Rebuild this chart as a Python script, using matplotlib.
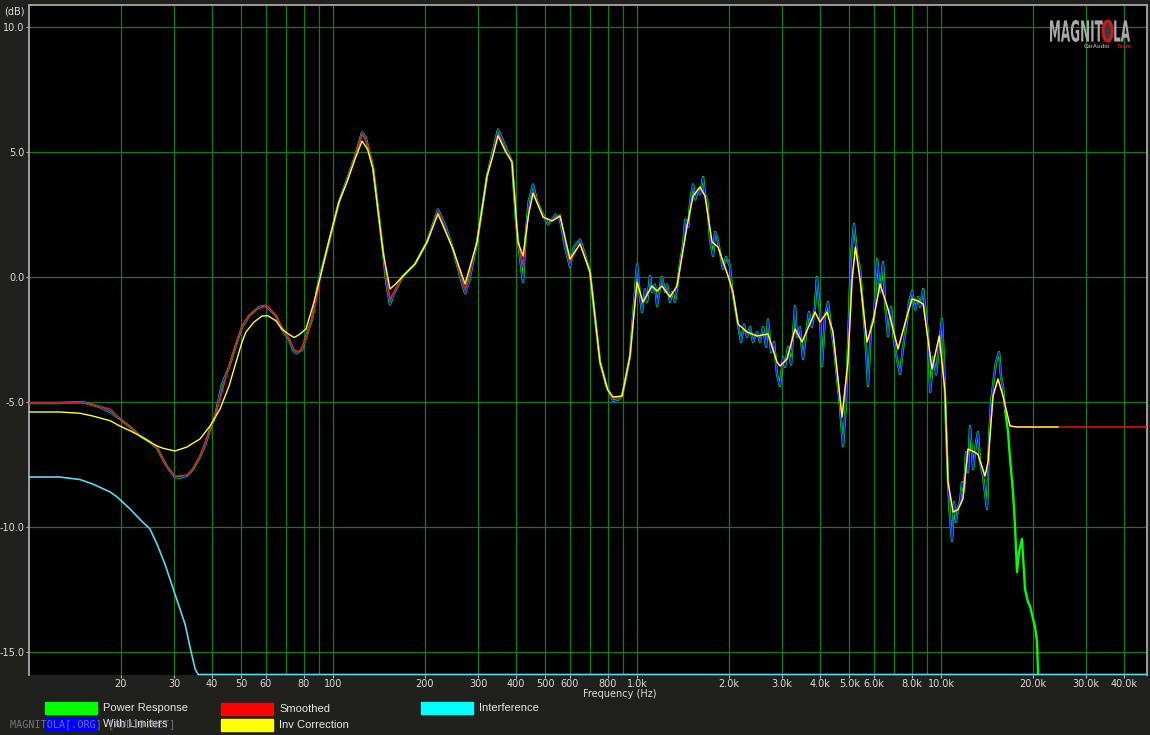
import matplotlib
matplotlib.use("Agg")
import matplotlib.pyplot as plt
from matplotlib.patches import Rectangle, PathPatch, Ellipse
from matplotlib.textpath import TextPath
from matplotlib.font_manager import FontProperties
from matplotlib.transforms import Affine2D

W, H = 1150, 735

# ---- measured response (Power Response), low band ----
raw_low_freq = [10, 12.6, 15.0, 17.1, 18.5, 20.0, 21.5, 23.2, 25.0, 26.4,
                27.6, 28.5, 30.2, 31.5, 33.1, 34.6, 36.5, 38.0, 39.4, 40.9,
                43.1, 45.5, 48.0, 50.2, 53.0, 57.1, 60.2, 64.9, 67.9, 71.7,
                74.0, 76.1, 79.1, 82.0, 85.3, 89.9, 97.0, 104.6, 111.2, 118.0,
                124.6, 128.0, 135.4, 146.1, 150.0, 154.0, 158.0, 170.0, 186.1, 203.8,
                221.5, 235.0, 248.1, 265.0, 271.8, 280.0, 297.7, 321.1, 349.0, 370.0,
                388.0, 400.0, 410.0, 421.7, 430.0, 440.0, 455.0, 470.0, 490.8, 510.0,
                525.4, 540.0, 558.2, 580.0, 602.0, 620.0, 649.4, 670.0, 700.6, 730.0,
                755.7, 790.0, 833.7, 870.0, 892.7, 920.0, 948.4, 970.0, 1000]
raw_low_db = [-5.04, -5.04, -5.00, -5.20, -5.40, -5.70, -6.00, -6.36, -6.60, -6.85,
              -7.30, -7.60, -8.00, -8.02, -7.95, -7.70, -7.20, -6.70, -6.10, -5.60,
              -4.30, -3.60, -2.70, -2.00, -1.55, -1.20, -1.15, -1.55, -2.10, -2.50,
              -2.95, -3.05, -2.90, -2.30, -1.70, -0.10, 1.40, 3.00, 3.90, 4.80,
              5.78, 5.60, 4.40, 1.00, -0.30, -1.10, -0.70, 0.04, 0.52, 1.40,
              2.70, 2.00, 1.12, -0.20, -0.65, -0.20, 1.40, 4.04, 5.90, 5.20,
              4.60, 2.20, 1.00, -0.20, 1.60, 3.00, 3.70, 3.00, 2.50, 2.10,
              2.30, 2.50, 2.30, 1.20, 0.40, 1.20, 1.50, 1.00, 0.20, -1.80,
              -3.40, -4.30, -4.95, -4.90, -4.76, -4.00, -3.16, -1.60, 0.50]

# ---- measured response, high band ----
raw_high_freq = [1023, 1039, 1062, 1079, 1104, 1120, 1146, 1164, 1190, 1208,
                 1237, 1256, 1284, 1304, 1333, 1365, 1387, 1419, 1441, 1474,
                 1496, 1529, 1553, 1588, 1612, 1649, 1674, 1700, 1739, 1779,
                 1806, 1833, 1875, 1918, 1962, 2022, 2053, 2101, 2149, 2199,
                 2250, 2300, 2354, 2408, 2482, 2540, 2599, 2659, 2697, 2760,
                 2824, 2888, 2954, 3023, 3069, 3139, 3211, 3309, 3359, 3436,
                 3515, 3596, 3678, 3763, 3850, 3908, 3999, 4059, 4152, 4248,
                 4346, 4446, 4548, 4653, 4761, 4871, 4983, 5058, 5175, 5292,
                 5415, 5540, 5624, 5754, 5887, 6023, 6162, 6300, 6446, 6543,
                 6694, 6849, 7007, 7169, 7334, 7504, 7677, 7854, 8036, 8221,
                 8411, 8539, 8737, 8938, 9074, 9212, 9424, 9642, 9865, 10077,
                 10232, 10388, 10545, 10707, 10872, 11038, 11207, 11380, 11550, 11726,
                 11905, 12086, 12273, 12458, 12750, 13050, 13233, 13436, 13747, 13957,
                 14172, 14389, 14609, 14944, 15175, 15520, 15760, 15993, 16240, 16612,
                 16866, 17254, 17515, 17783, 18054, 18466, 18893, 19325, 19625, 20075,
                 20390, 20692, 20850, 21170]
raw_high_db = [-0.8, -1.4, -0.5, -1.0, 0.04, -0.6, -0.3, -1.16, -0.4, 0.0,
               -0.6, -0.3, -1.0, -0.6, -1.0, -0.08, 0.6, 1.3, 2.3, 2.0,
               3.0, 3.7, 3.1, 3.5, 3.3, 4.0, 3.3, 3.1, 1.5, 0.84,
               1.8, 1.6, 1.0, 0.32, 0.8, 0.44, -0.48, -1.2, -1.9, -2.6,
               -1.9, -2.4, -2.0, -2.6, -2.2, -2.6, -2.0, -2.8, -1.7, -3.0,
               -2.6, -3.9, -4.36, -3.2, -3.6, -2.8, -3.5, -1.16, -2.4, -2.0,
               -3.28, -2.3, -1.4, -2.0, -1.2, 0.0, -1.4, -3.56, -1.6, -1.0,
               -2.0, -2.8, -4.0, -5.2, -6.76, -5.0, -1.5, 0.8, 2.12, 0.9,
               0.32, -1.2, -2.2, -4.36, -2.0, -1.6, 0.72, -0.6, 0.6, -1.0,
               -2.36, -1.2, -2.6, -3.3, -3.88, -2.8, -2.0, -1.0, -0.56, -1.3,
               -0.8, -1.2, -0.48, -1.6, -2.4, -4.6, -3.2, -3.9, -2.6, -1.68,
               -3.5, -6.0, -8.2, -9.6, -10.56, -9.0, -9.8, -9.2, -9.0, -8.2,
               -8.6, -7.0, -7.8, -5.96, -7.68, -6.6, -6.2, -7.4, -7.96, -8.6,
               -9.28, -6.5, -5.0, -4.0, -3.4, -3.0, -4.0, -4.4, -5.3, -6.2,
               -7.28, -8.6, -9.96, -11.8, -11.0, -10.48, -12.48, -13.0, -13.16, -13.68,
               -14.0, -14.6, -15.8, -17.5]

# ---- smoothed (red) and inverse correction (yellow) on one grid ----
smooth_freq = [10, 12.6, 14.7, 16.2, 18.5, 19.9, 21.5, 23.2, 25.0, 26.4,
               27.6, 30.2, 33.1, 34.6, 36.5, 39.4, 42.5, 45.5, 50.2, 51.7,
               55.0, 58.4, 61.0, 64.9, 67.9, 71.7, 74.5, 77.5, 81.5, 86.6,
               91.3, 97.0, 104.6, 111.2, 118, 124.6, 130, 135.4, 146.1, 154.0,
               160, 170, 186.1, 203.8, 221.5, 248.1, 271.8, 297.7, 321.1, 335,
               349, 370, 388, 406, 421.7, 440, 455, 490.8, 525.4, 558.2,
               602, 649.4, 700.6, 755.7, 800, 833.7, 892.7, 948.4, 1000, 1046,
               1120, 1164, 1208, 1284, 1354, 1461, 1529, 1612, 1674, 1765,
               1847, 1993, 2069, 2149, 2300, 2482, 2697, 2888, 2954, 3115,
               3309, 3490, 3850, 3999, 4217, 4413, 4725, 4940, 5100, 5230,
               5415, 5710, 5974, 6300, 6694, 7222, 7731, 8036, 8411, 8737,
               9342, 9865, 10310, 10545, 10955, 11380, 11800, 12273, 12900, 13233,
               13957, 14278, 14830, 15395, 15993, 16866, 17800, 24260]
inv_db = [-5.40, -5.40, -5.45, -5.56, -5.75, -5.96, -6.15, -6.36, -6.60, -6.76,
          -6.85, -6.96, -6.80, -6.65, -6.48, -5.96, -5.28, -4.36, -2.60, -2.20,
          -1.80, -1.56, -1.55, -1.75, -2.08, -2.30, -2.42, -2.30, -2.08, -1.00,
          0.12, 1.45, 3.00, 3.80, 4.70, 5.44, 5.10, 4.32, 1.00, -0.48,
          -0.30, 0.04, 0.52, 1.40, 2.52, 1.12, -0.28, 1.40, 4.04, 4.80,
          5.65, 5.00, 4.60, 1.40, 0.84, 2.50, 3.35, 2.40, 2.24, 2.44,
          0.72, 1.32, 0.20, -3.40, -4.50, -4.80, -4.76, -3.16, -0.20, -1.00,
          -0.36, -0.56, -0.36, -0.80, -0.36, 2.04, 3.24, 3.60, 3.24, 1.40,
          1.20, 0.04, -0.60, -1.88, -2.20, -2.36, -2.28, -3.40, -3.56, -3.28,
          -2.08, -2.60, -1.40, -1.80, -1.40, -2.20, -5.60, -3.40, -0.10, 1.20,
          -0.10, -2.60, -1.80, -0.28, -1.28, -2.88, -1.56, -0.88, -0.96, -1.08,
          -3.68, -2.36, -4.60, -8.20, -9.40, -9.30, -8.88, -6.88, -7.00, -7.10,
          -7.96, -7.40, -4.76, -4.08, -4.76, -5.96, -6.00, -6.00]
smooth_db = [-5.04, -5.04, -5.04, -5.10, -5.28, -5.68, -6.00, -6.36, -6.60, -6.80,
             -7.36, -7.96, -7.92, -7.68, -7.16, -6.08, -4.90, -3.56, -1.96, -1.70,
             -1.35, -1.20, -1.16, -1.56, -2.00, -2.48, -2.90, -3.00, -2.50, -1.40,
             0.10, 1.40, 3.00, 3.80, 4.80, 5.72, 5.30, 4.32, 1.00, -0.88,
             -0.50, 0.04, 0.52, 1.40, 2.62, 1.12, -0.50, 1.40, 4.04, 4.90,
             5.72, 5.05, 4.60, 1.40, 0.50, 2.60, 3.40, 2.40, 2.24, 2.50,
             0.60, 1.36, 0.20, -3.40, -4.50, -4.85, -4.80, -3.16, -0.20, -1.00,
             -0.36, -0.56, -0.36, -0.80, -0.36, 2.04, 3.24, 3.60, 3.24, 1.40,
             1.20, 0.04, -0.60, -1.88, -2.20, -2.36, -2.28, -3.40, -3.56, -3.28,
             -2.08, -2.60, -1.40, -1.80, -1.40, -2.20, -5.60, -3.40, -0.10, 1.20,
             -0.10, -2.60, -1.80, -0.28, -1.28, -2.88, -1.56, -0.88, -0.96, -1.08,
             -3.68, -2.36, -4.60, -8.20, -9.40, -9.30, -8.88, -6.88, -7.00, -7.10,
             -7.96, -7.40, -4.76, -4.08, -4.76, -5.96, -6.00, -6.00]
smooth_tail_freq = [24260, 47600]
smooth_tail_db = [-6.00, -6.00]

# ---- interference ----
inter_freq = [10, 12.6, 14.7, 16.2, 18.5, 19.5, 21.5, 23.2, 25.0, 26.4,
              28.0, 30.2, 32.6, 34.0, 35.2, 36.0, 47600]
inter_db = [-8.0, -8.0, -8.1, -8.28, -8.6, -8.8, -9.28, -9.7, -10.08, -10.7,
            -11.48, -12.68, -13.88, -14.9, -15.68, -15.9, -15.9]

limiter_max_freq = 16300

xtick_freq = [20, 30, 40, 50, 60, 80, 100, 200, 300, 400, 500, 600, 800,
              1000, 2000, 3000, 4000, 5000, 6000, 8000, 10000, 20000, 30000, 40000]
xtick_labels = ["20", "30", "40", "50", "60", "80", "100", "200", "300", "400",
                "500", "600", "800", "1.0k", "2.0k", "3.0k", "4.0k", "5.0k",
                "6.0k", "8.0k", "10.0k", "20.0k", "30.0k", "40.0k"]
xgrid_extra = [70, 90, 700, 900, 7000, 9000]
ytick_db = [-15, -10, -5, 0, 5, 10]
ytick_labels = ["-15.0", "-10.0", "-5.0", "0.0", "5.0", "10.0"]

legend_items = [("Power Response", "#00ff00"), ("With Limiters", "#0000ff"),
                ("Smoothed", "#ff0000"), ("Inv Correction", "#ffff00"),
                ("Interference", "#00ffff")]


def fx(px):
    return px / W


def fy(py):
    return 1 - py / H


raw_freq = raw_low_freq + raw_high_freq
raw_db = raw_low_db + raw_high_db
lim_freq = [f for f in raw_freq if f <= limiter_max_freq]
lim_db = raw_db[:len(lim_freq)]

fig = plt.figure(figsize=(W / 100, H / 100), dpi=100, facecolor="#20201d")
ax = fig.add_axes([fx(29), 60 / H, 1118 / W, 670 / H], facecolor="black")
ax.set_xscale("log")
ax.set_xlim(10, 47600)
ax.set_ylim(-15.92, 10.88)

ax.plot(raw_freq, raw_db, color="#00ff00", lw=1.7, zorder=3)
ax.plot(lim_freq, lim_db, color="#0a14ff", lw=0.9, zorder=4)
ax.plot(smooth_freq + smooth_tail_freq, smooth_db + smooth_tail_db,
        color="#ff1010", lw=1.0, zorder=5)
ax.plot(smooth_freq, inv_db, color="#ffff40", lw=1.0, zorder=6)
ax.plot(inter_freq, inter_db, color="#5fd6ee", lw=1.2, zorder=6, clip_on=False)

ax.set_xticks(xtick_freq)
ax.set_xticklabels(xtick_labels)
ax.set_xticks(xgrid_extra, minor=True)
ax.set_yticks(ytick_db)
ax.set_yticklabels(ytick_labels)
ax.grid(True, which="both", axis="x", color="#167a16", lw=0.9, zorder=1)
ax.grid(True, which="major", axis="y", color="#167a16", lw=0.9, zorder=1)
ax.tick_params(axis="both", which="major", colors="#b8b8b8", labelcolor="#dcdcdc",
               labelsize=7, length=2, width=0.8, pad=1.5)
ax.tick_params(axis="x", which="minor", length=0)
ax.tick_params(axis="x", which="major", pad=0.8)

for side in ["left", "top", "right"]:
    ax.spines[side].set_color("#a8a8a8")
    ax.spines[side].set_linewidth(1.3)
ax.spines["bottom"].set_visible(False)

fig.text(fx(14), fy(11), "(dB)", color="#dcdcdc", fontsize=7, ha="center", va="center")
fig.text(fx(620), fy(694), "Frequency (Hz)", color="#dcdcdc", fontsize=7,
         ha="center", va="center")

# legend boxes
box_pos = [(45, 702), (45, 718), (221, 703), (221, 719), (421, 702)]
for (name, col), (bx, by) in zip(legend_items, box_pos):
    fig.add_artist(Rectangle((fx(bx), fy(by + 12)), 52 / W, 12 / H, color=col,
                             transform=fig.transFigure))
    fig.text(fx(bx + 58), fy(by + 6), name, color="#e8e8e8", fontsize=8,
             family="Liberation Sans", ha="left", va="center")

# watermark sits over the legend, as in the screenshot
fig.text(fx(10), fy(724), "MAGNITOLA[.ORG] [AUDIO.NET]", color="#8c90a4",
         fontsize=7.3, family="DejaVu Sans Mono", ha="left", va="center",
         alpha=0.75, zorder=10)

# logo
px = Affine2D().scale(1 / W, 1 / H) + fig.transFigure
fp = FontProperties(family="DejaVu Sans", weight="bold")
word = TextPath((0, 0), "MAGNITOLA", size=10, prop=fp)
ext = word.get_extents()
sx = 80 / ext.width
sy = 22 / ext.height
tr = Affine2D().translate(-ext.x0, -ext.y0).scale(sx, sy).translate(1050, H - 42)
fig.add_artist(PathPatch(word, facecolor="#a9a9a9", edgecolor="none",
                         transform=tr + px, zorder=8))
e1 = TextPath((0, 0), "MAGNIT", size=10, prop=fp).get_extents()
e2 = TextPath((0, 0), "MAGNITO", size=10, prop=fp).get_extents()
ocx = 1050 + ((e1.x1 + e2.x1) / 2 - ext.x0) * sx
ow = (e2.x1 - e1.x1) * sx
fig.add_artist(Ellipse((ocx, H - 31), ow * 0.95, 20, facecolor="#3a3a3a",
                       edgecolor="#d01818", lw=2.2, transform=px, zorder=9))
fig.text(fx(1084), fy(46), "CarAudio", color="#9a9a9a", fontsize=4.2,
         family="Liberation Sans", weight="bold", ha="left", va="center")
fig.text(fx(1117), fy(46), "Team", color="#d01818", fontsize=4.2,
         family="Liberation Sans", weight="bold", ha="left", va="center")

fig.savefig("out.png", dpi=100, facecolor=fig.get_facecolor())
